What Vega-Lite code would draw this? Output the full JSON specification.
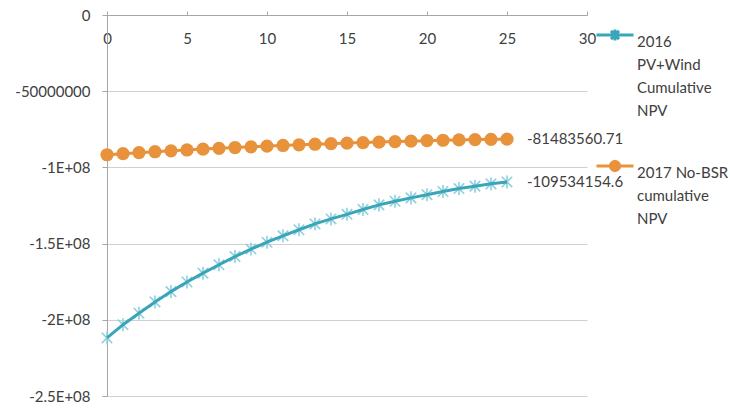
{
  "$schema": "https://vega.github.io/schema/vega-lite/v6.json",
  "width": 480,
  "height": 381,
  "autosize": "none",
  "padding": {"left": 107, "top": 15, "right": 143, "bottom": 12},
  "background": "white",
  "config": {"view": {"stroke": null}, "font": "Lato"},
  "data": {
    "values": [
      {"series": "2016 PV+Wind Cumulative NPV", "x": 0, "value": -211900000},
      {"series": "2016 PV+Wind Cumulative NPV", "x": 1, "value": -203200000},
      {"series": "2016 PV+Wind Cumulative NPV", "x": 2, "value": -195700000},
      {"series": "2016 PV+Wind Cumulative NPV", "x": 3, "value": -188300000},
      {"series": "2016 PV+Wind Cumulative NPV", "x": 4, "value": -181500000},
      {"series": "2016 PV+Wind Cumulative NPV", "x": 5, "value": -175200000},
      {"series": "2016 PV+Wind Cumulative NPV", "x": 6, "value": -169400000},
      {"series": "2016 PV+Wind Cumulative NPV", "x": 7, "value": -163900000},
      {"series": "2016 PV+Wind Cumulative NPV", "x": 8, "value": -158500000},
      {"series": "2016 PV+Wind Cumulative NPV", "x": 9, "value": -153600000},
      {"series": "2016 PV+Wind Cumulative NPV", "x": 10, "value": -149100000},
      {"series": "2016 PV+Wind Cumulative NPV", "x": 11, "value": -144900000},
      {"series": "2016 PV+Wind Cumulative NPV", "x": 12, "value": -140900000},
      {"series": "2016 PV+Wind Cumulative NPV", "x": 13, "value": -137100000},
      {"series": "2016 PV+Wind Cumulative NPV", "x": 14, "value": -133800000},
      {"series": "2016 PV+Wind Cumulative NPV", "x": 15, "value": -130800000},
      {"series": "2016 PV+Wind Cumulative NPV", "x": 16, "value": -127600000},
      {"series": "2016 PV+Wind Cumulative NPV", "x": 17, "value": -124600000},
      {"series": "2016 PV+Wind Cumulative NPV", "x": 18, "value": -122200000},
      {"series": "2016 PV+Wind Cumulative NPV", "x": 19, "value": -120000000},
      {"series": "2016 PV+Wind Cumulative NPV", "x": 20, "value": -117900000},
      {"series": "2016 PV+Wind Cumulative NPV", "x": 21, "value": -115800000},
      {"series": "2016 PV+Wind Cumulative NPV", "x": 22, "value": -113900000},
      {"series": "2016 PV+Wind Cumulative NPV", "x": 23, "value": -112300000},
      {"series": "2016 PV+Wind Cumulative NPV", "x": 24, "value": -110800000},
      {"series": "2016 PV+Wind Cumulative NPV", "x": 25, "value": -109534154.6, "label": "-109534154.6"},
      {"series": "2017 No-BSR cumulative NPV", "x": 0, "value": -91700000},
      {"series": "2017 No-BSR cumulative NPV", "x": 1, "value": -91000000},
      {"series": "2017 No-BSR cumulative NPV", "x": 2, "value": -90350000},
      {"series": "2017 No-BSR cumulative NPV", "x": 3, "value": -89720000},
      {"series": "2017 No-BSR cumulative NPV", "x": 4, "value": -89120000},
      {"series": "2017 No-BSR cumulative NPV", "x": 5, "value": -88550000},
      {"series": "2017 No-BSR cumulative NPV", "x": 6, "value": -88000000},
      {"series": "2017 No-BSR cumulative NPV", "x": 7, "value": -87470000},
      {"series": "2017 No-BSR cumulative NPV", "x": 8, "value": -86970000},
      {"series": "2017 No-BSR cumulative NPV", "x": 9, "value": -86490000},
      {"series": "2017 No-BSR cumulative NPV", "x": 10, "value": -86030000},
      {"series": "2017 No-BSR cumulative NPV", "x": 11, "value": -85600000},
      {"series": "2017 No-BSR cumulative NPV", "x": 12, "value": -85180000},
      {"series": "2017 No-BSR cumulative NPV", "x": 13, "value": -84780000},
      {"series": "2017 No-BSR cumulative NPV", "x": 14, "value": -84400000},
      {"series": "2017 No-BSR cumulative NPV", "x": 15, "value": -84040000},
      {"series": "2017 No-BSR cumulative NPV", "x": 16, "value": -83700000},
      {"series": "2017 No-BSR cumulative NPV", "x": 17, "value": -83380000},
      {"series": "2017 No-BSR cumulative NPV", "x": 18, "value": -83070000},
      {"series": "2017 No-BSR cumulative NPV", "x": 19, "value": -82780000},
      {"series": "2017 No-BSR cumulative NPV", "x": 20, "value": -82450000},
      {"series": "2017 No-BSR cumulative NPV", "x": 21, "value": -82190000},
      {"series": "2017 No-BSR cumulative NPV", "x": 22, "value": -81950000},
      {"series": "2017 No-BSR cumulative NPV", "x": 23, "value": -81760000},
      {"series": "2017 No-BSR cumulative NPV", "x": 24, "value": -81610000},
      {"series": "2017 No-BSR cumulative NPV", "x": 25, "value": -81483560.71, "label": "-81483560.71"}
    ]
  },
  "encoding": {
    "x": {
      "field": "x",
      "type": "quantitative",
      "scale": {"domain": [0, 30], "nice": false},
      "axis": {
        "orient": "top",
        "title": null,
        "values": [0, 5, 10, 15, 20, 25, 30],
        "grid": false,
        "domainColor": "#a6a6a6",
        "tickColor": "#a6a6a6",
        "tickSize": 4,
        "labelBaseline": "top",
        "labelPadding": -20,
        "labelFont": "Lato",
        "labelFontSize": 15,
        "labelColor": "#404040",
        "labelFlush": false
      }
    },
    "y": {
      "field": "value",
      "type": "quantitative",
      "scale": {"domain": [-250000000, 0], "nice": false},
      "axis": {
        "title": null,
        "values": [0, -50000000, -100000000, -150000000, -200000000, -250000000],
        "grid": true,
        "gridColor": "#d0d0d0",
        "domainColor": "#a6a6a6",
        "tickColor": "#a6a6a6",
        "tickSize": 5,
        "labelPadding": 12,
        "labelFont": "Lato",
        "labelFontSize": 15,
        "labelColor": "#404040",
        "labelExpr": "datum.value == 0 ? '0' : datum.value == -50000000 ? '-50000000' : datum.value == -100000000 ? '-1E+08' : datum.value == -150000000 ? '-1.5E+08' : datum.value == -200000000 ? '-2E+08' : '-2.5E+08'"
      }
    }
  },
  "layer": [
    {
      "transform": [{"filter": "datum.series == '2016 PV+Wind Cumulative NPV'"}],
      "mark": {
        "type": "point",
        "shape": "M-0.8,-0.8L0.8,0.8M-0.8,0.8L0.8,-0.8M0,-1L0,1",
        "filled": false,
        "size": 170,
        "color": "#8fd0dc",
        "strokeWidth": 1.6,
        "opacity": 1
      }
    },
    {
      "mark": {"type": "line", "strokeWidth": 3},
      "encoding": {
        "color": {
          "field": "series",
          "type": "nominal",
          "scale": {
            "domain": ["2016 PV+Wind Cumulative NPV", "2017 No-BSR cumulative NPV"],
            "range": ["#3aa5b9", "#e8923c"]
          },
          "legend": {
            "title": null,
            "orient": "right",
            "offset": 8,
            "padding": 0,
            "symbolType": "M-1,0L1,0",
            "symbolSize": 1369,
            "symbolStrokeWidth": 3,
            "labelFont": "Lato",
            "labelFontSize": 15,
            "labelColor": "#404040",
            "labelLimit": 0,
            "labelOffset": 2,
            "labelBaseline": "top",
            "rowPadding": 27,
            "labelExpr": "datum.label == '2016 PV+Wind Cumulative NPV' ? ['2016', 'PV+Wind', 'Cumulative', 'NPV'] : ['2017 No-BSR', 'cumulative', 'NPV']",
            "encode": {
              "symbols": {
                "update": {
                  "shape": {"signal": "datum.value == '2016 PV+Wind Cumulative NPV' ? 'M-1,0L1,0M-0.22,-0.22L0.22,0.22M-0.22,0.22L0.22,-0.22M0,-0.3L0,0.3' : 'M-1,0L1,0M0.25,0L0.217,0.125L0.125,0.217L0,0.25L-0.125,0.217L-0.217,0.125L-0.25,0L-0.217,-0.125L-0.125,-0.217L0,-0.25L0.125,-0.217L0.217,-0.125Z'"},
                  "fill": {"signal": "datum.value == '2016 PV+Wind Cumulative NPV' ? 'transparent' : '#e8923c'"}
                }
              },
              "labels": {
                "update": {"lineHeight": {"value": 23}}
              }
            }
          }
        }
      }
    },
    {
      "transform": [{"filter": "datum.series == '2017 No-BSR cumulative NPV'"}],
      "mark": {
        "type": "point",
        "shape": "circle",
        "filled": true,
        "size": 175,
        "color": "#e8923c",
        "opacity": 1
      }
    },
    {
      "transform": [{"filter": "datum.x == 25"}],
      "mark": {
        "type": "text",
        "align": "left",
        "baseline": "middle",
        "dx": 20,
        "font": "Lato",
        "fontSize": 15,
        "color": "#404040"
      },
      "encoding": {"text": {"field": "label", "type": "nominal"}}
    }
  ]
}
